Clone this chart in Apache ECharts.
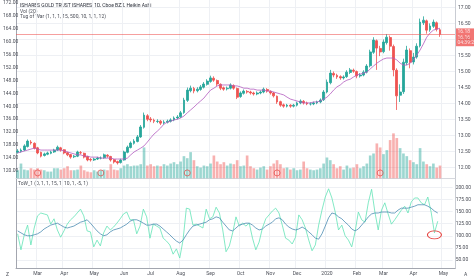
<!DOCTYPE html>
<html>
<head>
<meta charset="utf-8">
<script src="https://cdn.jsdelivr.net/npm/echarts@6/dist/echarts.min.js"></script>
<style>
  html, body { margin: 0; padding: 0; background: #fff; }
  #chart { width: 474px; height: 279px; }
</style>
</head>
<body>
<div id="chart"></div>
<script>
// two bars per week (Mon / Thu), Feb 2019 -> mid May 2020; last 4 slots are empty
const dates = [];
const startMs = Date.UTC(2019, 1, 11);
for (let w = 0; w < 66; w++) {
  for (const d of [0, 3]) {
    dates.push(new Date(startMs + (w * 7 + d) * 86400000).toISOString().slice(0, 10));
  }
}

const opens = [
  12.48, 12.51, 12.55, 12.66, 12.80, 12.76, 12.62, 12.48, 12.38, 12.42,
  12.45, 12.49, 12.55, 12.62, 12.56, 12.47, 12.41, 12.34, 12.36, 12.47,
  12.45, 12.35, 12.26, 12.24, 12.27, 12.30, 12.31, 12.39, 12.35, 12.25,
  12.19, 12.16, 12.24, 12.48, 12.63, 12.76, 12.82, 12.96, 13.26, 13.62,
  13.52, 13.48, 13.44, 13.45, 13.40, 13.42, 13.45, 13.49, 13.55, 13.59,
  13.72, 14.10, 14.40, 14.47, 14.40, 14.44, 14.51, 14.60, 14.69, 14.79,
  14.72, 14.60, 14.49, 14.46, 14.48, 14.56, 14.47, 14.22, 14.32, 14.38,
  14.36, 14.33, 14.30, 14.33, 14.36, 14.44, 14.38, 14.33, 14.23, 14.06,
  13.96, 13.92, 13.95, 13.92, 13.95, 14.02, 14.07, 14.02, 13.99, 13.99,
  14.02, 14.05, 14.12, 14.36, 14.65, 14.94, 14.88, 14.84, 14.80, 14.84,
  14.97, 15.04, 15.00, 14.86, 14.89, 14.98, 15.18, 15.60, 15.96, 15.72,
  15.62, 15.90, 16.06, 15.78, 15.04, 14.26, 14.37, 15.27, 15.65, 15.30,
  15.45, 15.80, 16.52, 16.58, 16.30, 16.41, 16.52, 16.30
];
const closes = [
  12.52, 12.55, 12.68, 12.83, 12.77, 12.61, 12.46, 12.36, 12.43, 12.46,
  12.49, 12.55, 12.64, 12.55, 12.46, 12.40, 12.33, 12.36, 12.49, 12.46,
  12.33, 12.24, 12.24, 12.27, 12.30, 12.30, 12.40, 12.36, 12.24, 12.18,
  12.15, 12.24, 12.49, 12.64, 12.77, 12.83, 12.96, 13.27, 13.64, 13.51,
  13.49, 13.45, 13.45, 13.39, 13.42, 13.45, 13.49, 13.55, 13.58, 13.71,
  14.11, 14.42, 14.48, 14.39, 14.45, 14.52, 14.61, 14.70, 14.80, 14.73,
  14.61, 14.48, 14.45, 14.48, 14.58, 14.48, 14.20, 14.33, 14.39, 14.36,
  14.33, 14.30, 14.33, 14.36, 14.45, 14.39, 14.33, 14.24, 14.05, 13.95,
  13.92, 13.95, 13.92, 13.95, 14.02, 14.08, 14.02, 13.99, 13.99, 14.02,
  14.05, 14.11, 14.36, 14.67, 14.95, 14.89, 14.83, 14.80, 14.83, 14.98,
  15.05, 15.01, 14.86, 14.89, 14.98, 15.17, 15.61, 15.98, 15.73, 15.61,
  15.92, 16.07, 15.79, 15.05, 14.24, 14.36, 15.29, 15.67, 15.29, 15.45,
  15.79, 16.54, 16.60, 16.29, 16.42, 16.54, 16.32, 16.16
];
const lows = [
  12.44, 12.47, 12.52, 12.63, 12.72, 12.57, 12.42, 12.32, 12.35, 12.39,
  12.42, 12.46, 12.52, 12.50, 12.42, 12.36, 12.28, 12.30, 12.33, 12.42,
  12.29, 12.20, 12.19, 12.21, 12.24, 12.26, 12.28, 12.31, 12.19, 12.13,
  12.10, 12.13, 12.22, 12.45, 12.60, 12.72, 12.79, 12.93, 13.22, 13.45,
  13.42, 13.39, 13.39, 13.33, 13.35, 13.38, 13.41, 13.45, 13.51, 13.55,
  13.68, 14.05, 14.35, 14.32, 14.35, 14.40, 14.47, 14.56, 14.65, 14.68,
  14.55, 14.42, 14.40, 14.41, 14.44, 14.43, 14.14, 14.18, 14.28, 14.31,
  14.28, 14.25, 14.26, 14.29, 14.32, 14.34, 14.28, 14.19, 13.99, 13.90,
  13.87, 13.88, 13.87, 13.88, 13.91, 13.98, 13.97, 13.95, 13.94, 13.95,
  13.98, 14.01, 14.08, 14.32, 14.60, 14.82, 14.77, 14.74, 14.75, 14.80,
  14.92, 14.96, 14.79, 14.81, 14.85, 14.94, 15.13, 15.55, 15.05, 15.48,
  15.57, 15.84, 15.65, 14.85, 13.80, 14.05, 14.30, 15.20, 15.10, 15.22,
  15.40, 15.75, 16.45, 16.18, 16.24, 16.36, 16.25, 16.08
];
const highs = [
  12.58, 12.60, 12.73, 12.88, 12.86, 12.79, 12.65, 12.50, 12.47, 12.50,
  12.53, 12.59, 12.69, 12.65, 12.58, 12.50, 12.43, 12.40, 12.53, 12.52,
  12.47, 12.37, 12.30, 12.31, 12.34, 12.35, 12.44, 12.42, 12.37, 12.27,
  12.22, 12.28, 12.53, 12.69, 12.82, 12.89, 13.02, 13.33, 13.72, 13.67,
  13.58, 13.53, 13.51, 13.49, 13.48, 13.50, 13.54, 13.60, 13.64, 13.77,
  14.18, 14.50, 14.56, 14.52, 14.51, 14.58, 14.67, 14.76, 14.87, 14.85,
  14.75, 14.63, 14.53, 14.53, 14.63, 14.60, 14.50, 14.38, 14.44, 14.42,
  14.40, 14.37, 14.38, 14.41, 14.50, 14.48, 14.41, 14.36, 14.25, 14.09,
  14.00, 13.99, 13.98, 13.99, 14.06, 14.13, 14.11, 14.06, 14.04, 14.06,
  14.09, 14.16, 14.42, 14.75, 15.05, 15.00, 14.93, 14.88, 14.88, 15.04,
  15.11, 15.09, 15.03, 14.95, 15.04, 15.23, 15.68, 16.07, 16.00, 15.80,
  16.00, 16.17, 16.12, 15.84, 15.10, 14.60, 15.40, 15.80, 15.72, 15.58,
  15.88, 16.65, 16.72, 16.62, 16.50, 16.62, 16.56, 16.34
];
const maLine = [
  12.46, 12.49, 12.52, 12.55, 12.58, 12.61, 12.58, 12.55, 12.55, 12.55,
  12.55, 12.55, 12.55, 12.55, 12.52, 12.49, 12.46, 12.43, 12.40, 12.40,
  12.36, 12.36, 12.33, 12.33, 12.33, 12.30, 12.30, 12.30, 12.30, 12.27,
  12.27, 12.27, 12.27, 12.30, 12.40, 12.49, 12.55, 12.61, 12.68, 12.80,
  12.93, 13.05, 13.14, 13.24, 13.36, 13.42, 13.45, 13.49, 13.51, 13.55,
  13.61, 13.71, 13.80, 13.89, 13.99, 14.08, 14.17, 14.30, 14.42, 14.48,
  14.55, 14.58, 14.58, 14.58, 14.58, 14.55, 14.55, 14.52, 14.48, 14.48,
  14.45, 14.45, 14.42, 14.42, 14.42, 14.39, 14.39, 14.36, 14.33, 14.30,
  14.27, 14.20, 14.14, 14.11, 14.08, 14.05, 14.02, 14.02, 14.02, 14.05,
  14.05, 14.08, 14.14, 14.20, 14.30, 14.42, 14.52, 14.58, 14.67, 14.73,
  14.76, 14.83, 14.89, 14.92, 14.95, 14.98, 15.08, 15.17, 15.26, 15.33,
  15.39, 15.42, 15.42, 15.42, 15.36, 15.26, 15.20, 15.20, 15.26, 15.36,
  15.51, 15.67, 15.86, 16.07, 16.20, 16.29, 16.32, 16.35
];
// volume, millions of shares
const volumes = [
  12, 22, 13, 12, 15, 13, 15, 13, 12, 10,
  10, 15, 15, 13, 15, 18, 12, 12, 13, 19,
  12, 10, 9, 12, 10, 12, 13, 12, 21, 13,
  12, 15, 19, 21, 18, 19, 19, 21, 46, 19,
  21, 18, 19, 18, 21, 19, 22, 24, 21, 25,
  33, 30, 39, 27, 18, 16, 19, 18, 22, 34,
  25, 21, 24, 19, 22, 21, 27, 18, 19, 34,
  18, 15, 13, 16, 18, 13, 18, 22, 27, 21,
  15, 16, 13, 15, 12, 13, 25, 15, 13, 12,
  13, 15, 22, 31, 27, 21, 15, 18, 13, 19,
  15, 16, 21, 15, 18, 22, 34, 37, 52, 46,
  36, 42, 57, 67, 60, 45, 37, 33, 27, 24,
  21, 45, 25, 21, 18, 22, 16, 19
];
// event markers sitting in the volume pane
const markerBars = [6, 25, 51, 78, 109];
const markerColors = ["#ef5350", "#26a69a", "#26a69a", "#ef5350", "#f57c52"];
const markerLevel = 8;

// lower pane: fast and slow tug-of-war lines
const towFast = [
  104, 71, 102, 122, 81, 116, 141, 147, 145, 143,
  124, 135, 112, 97, 110, 124, 133, 139, 147, 155,
  141, 110, 108, 77, 91, 79, 106, 120, 112, 118,
  126, 135, 145, 149, 133, 133, 104, 120, 155, 139,
  95, 124, 120, 116, 95, 89, 81, 62, 73, 54,
  91, 157, 155, 122, 124, 120, 116, 155, 135, 139,
  159, 147, 112, 67, 79, 106, 139, 120, 126, 120,
  126, 95, 71, 87, 116, 135, 143, 151, 157, 147,
  122, 95, 91, 83, 97, 143, 133, 116, 91, 69,
  81, 122, 153, 180, 197, 178, 149, 112, 122, 100,
  91, 77, 108, 149, 133, 128, 168, 196, 149, 112,
  153, 168, 145, 124, 133, 143, 153, 161, 147, 170,
  178, 178, 168, 164, 180, 149, 106, 130
];
const towSlow = [
  110, 106, 102, 100, 100, 102, 104, 108, 114, 118,
  122, 124, 126, 122, 118, 116, 118, 120, 124, 128,
  130, 133, 126, 118, 110, 104, 100, 102, 108, 112,
  114, 116, 120, 124, 130, 133, 133, 130, 126, 122,
  122, 124, 124, 120, 114, 108, 102, 95, 89, 85,
  91, 102, 112, 120, 122, 124, 126, 128, 133, 135,
  139, 137, 128, 120, 112, 110, 116, 122, 124, 126,
  126, 122, 116, 112, 114, 120, 124, 128, 135, 137,
  133, 124, 118, 114, 112, 114, 118, 114, 108, 102,
  95, 93, 104, 120, 137, 147, 145, 139, 135, 128,
  122, 114, 110, 114, 122, 130, 139, 145, 147, 147,
  149, 149, 149, 147, 147, 153, 157, 157, 157, 159,
  161, 164, 164, 164, 161, 157, 151, 147
];
const circledBar = 126;
const priceTags = ["16.18", "16.16", "04:39:28"];

const monthNames = ["Jan", "Feb", "Mar", "Apr", "May", "Jun", "Jul", "Aug", "Sep", "Oct", "Nov", "Dec"];
const UP = "#26a69a";
const DOWN = "#ef5350";
const GRID_LINE = "#eef0f4";
const BORDER = "#a3a6af";
const small = { fontSize: 5, color: "#4c4f58", fontFamily: "Roboto" };

function isMonthStart(idx) {
  return idx > 0 && dates[idx].slice(5, 7) !== dates[idx - 1].slice(5, 7);
}

function monthLabel(value) {
  const m = Number(value.slice(5, 7)) - 1;
  return m === 0 ? value.slice(0, 4) : monthNames[m];
}

function hiddenX(gridIndex) {
  return {
    type: "category", gridIndex, data: dates, boundaryGap: true,
    axisLine: { show: false }, axisTick: { show: false },
    axisLabel: { show: false }, splitLine: { show: false },
  };
}

const chart = echarts.init(document.getElementById("chart"), null, { renderer: "canvas" });

chart.setOption({
  animation: false,
  textStyle: { fontFamily: "Roboto" },
  grid: [
    { left: 16, right: 19, top: 0, bottom: 111.3 },     // price
    { left: 16, right: 19, top: 130, bottom: 100.7 },   // volume
    { left: 16, right: 19, top: 175.2, bottom: 6.9 },   // oscillator
    { left: 16, right: 19, top: 0, bottom: 10.5 },      // frame + time axis
    { left: 16, right: 19, top: 0, bottom: 94.9 },      // left scale
  ],
  xAxis: [
    hiddenX(0),
    Object.assign(hiddenX(1), { axisLine: { show: true, lineStyle: { color: "#d6d8de", width: 1 } } }),
    hiddenX(2),
    {
      type: "category", gridIndex: 3, data: dates, boundaryGap: true,
      axisLine: { lineStyle: { color: BORDER, width: 1 } },
      axisTick: { show: false },
      axisLabel: Object.assign({}, small, { interval: isMonthStart, formatter: monthLabel, margin: 3 }),
      splitLine: { show: true, interval: isMonthStart, lineStyle: { color: GRID_LINE, width: 1 } },
    },
    hiddenX(4),
  ],
  yAxis: [
    {
      gridIndex: 0, position: "right", min: 12, max: 17.23, interval: 0.5,
      axisLine: { show: false }, axisTick: { show: false },
      axisLabel: Object.assign({}, small, { margin: 3, showMaxLabel: false, formatter: (v) => v.toFixed(2) }),
      splitLine: { showMaxLine: false, lineStyle: { color: GRID_LINE, width: 1 } },
    },
    { gridIndex: 1, min: 0, max: 72, show: false },
    {
      gridIndex: 2, position: "right", min: 25, max: 225, interval: 25,
      axisLine: { show: false }, axisTick: { show: false },
      axisLabel: Object.assign({}, small, {
        margin: 3, showMinLabel: false, showMaxLabel: false, formatter: (v) => v.toFixed(2),
      }),
      splitLine: { showMinLine: false, showMaxLine: false, lineStyle: { color: GRID_LINE, width: 1 } },
    },
    {
      gridIndex: 3, position: "left", min: 0, max: 1,
      axisLine: { show: true, lineStyle: { color: BORDER, width: 1 } },
      axisTick: { show: false }, axisLabel: { show: false }, splitLine: { show: false },
    },
    {
      gridIndex: 3, position: "right", min: 0, max: 1,
      axisLine: { show: true, lineStyle: { color: "#c9ccd3", width: 1 } },
      axisTick: { show: false }, axisLabel: { show: false }, splitLine: { show: false },
    },
    {
      gridIndex: 4, position: "left", min: 116, max: 172.3, interval: 4,
      axisLine: { show: false }, axisTick: { show: false }, splitLine: { show: false },
      axisLabel: Object.assign({}, small, {
        margin: 1, showMinLabel: false, showMaxLabel: false, formatter: (v) => v.toFixed(2),
      }),
    },
  ],
  series: [
    {
      name: "IAU", type: "candlestick", xAxisIndex: 0, yAxisIndex: 0,
      barWidth: "70%",
      data: closes.map((c, i) => [opens[i], c, lows[i], highs[i]]),
      itemStyle: { color: UP, color0: DOWN, borderColor: UP, borderColor0: DOWN, borderWidth: 0.8 },
      markLine: {
        silent: true, symbol: "none",
        data: [{ yAxis: closes[closes.length - 1] }],
        lineStyle: { color: DOWN, width: 0.7, type: "solid", opacity: 0.8 },
        label: {
          position: "end", distance: 1, offset: [0, 3],
          formatter: () => priceTags.join("\n"),
          backgroundColor: DOWN, color: "#fff", fontSize: 5, lineHeight: 5.6,
          padding: [0.5, 1.5], fontFamily: "Roboto",
        },
      },
      z: 3,
    },
    {
      name: "MA", type: "line", xAxisIndex: 0, yAxisIndex: 0, data: maLine,
      showSymbol: false, lineStyle: { color: "#b25cbf", width: 0.8 }, z: 4,
    },
    {
      name: "Vol", type: "bar", xAxisIndex: 1, yAxisIndex: 1, data: volumes, barWidth: "80%",
      itemStyle: {
        color: (p) => (closes[p.dataIndex] >= opens[p.dataIndex] ? "rgba(38,166,154,0.45)" : "rgba(239,83,80,0.45)"),
      },
    },
    {
      name: "Events", type: "scatter", xAxisIndex: 1, yAxisIndex: 1,
      data: markerBars.map((b) => [b, markerLevel]),
      symbol: "circle", symbolSize: 6,
      itemStyle: {
        color: "rgba(255,255,255,0)", borderWidth: 0.8,
        borderColor: (p) => markerColors[p.dataIndex],
      },
      z: 5,
    },
    {
      name: "ToW fast", type: "line", xAxisIndex: 2, yAxisIndex: 2, data: towFast,
      showSymbol: false, lineStyle: { color: "#63e3b6", width: 0.8 },
      markPoint: {
        silent: true,
        data: [{
          coord: [dates[circledBar], towFast[circledBar]],
          symbol: "circle", symbolSize: [14, 8], symbolOffset: [0, 2],
          itemStyle: { color: "rgba(255,255,255,0)", borderColor: "#e53935", borderWidth: 0.8 },
          label: { show: false },
        }],
      },
    },
    {
      name: "ToW slow", type: "line", xAxisIndex: 2, yAxisIndex: 2, data: towSlow,
      showSymbol: false, lineStyle: { color: "#4d8db3", width: 0.8 },
    },
  ],
  graphic: [
    { type: "text", left: 20, top: 3, style: { text: "ISHARES GOLD TRUST ISHARES, 1D, Cboe BZX, Heikin Ashi", fontSize: 5, fill: "#2a2e39", fontFamily: "Roboto" } },
    { type: "text", left: 20, top: 9, style: { text: "Vol (20)", fontSize: 5, fill: "#4c4f58", fontFamily: "Roboto" } },
    { type: "text", left: 20, top: 14, style: { text: "Tug of War (1, 1, 1, 15, 500, 10, 1, 1, 12)", fontSize: 5, fill: "#4c4f58", fontFamily: "Roboto" } },
    { type: "text", left: 18, top: 181.5, style: { text: "ToW_1 (0, 1, 1, 15, 1, 10, 1, -5, 1)", fontSize: 5, fill: "#4c4f58", fontFamily: "Roboto" } },
    { type: "text", left: 6, top: 272, style: { text: "Z", fontSize: 5, fill: "#4c4f58", fontFamily: "Roboto" } },
    { type: "text", left: 464, top: 272, style: { text: "A", fontSize: 5, fill: "#4c4f58", fontFamily: "Roboto" } },
  ],
});
</script>
</body>
</html>
